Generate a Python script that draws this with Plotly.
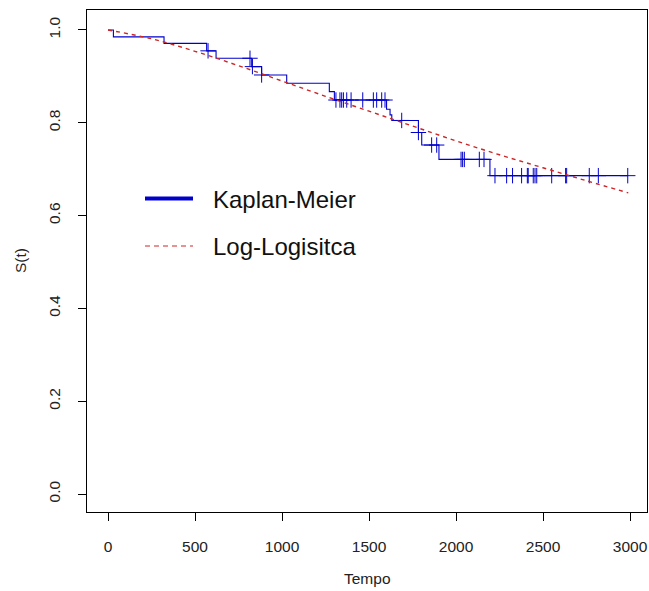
import numpy as np
import plotly.graph_objects as go

# Kaplan-Meier estimate (event times and survival after each step)
km_times = [0, 31, 322, 567, 621, 826, 883, 1027, 1272, 1301, 1601, 1621, 1631, 1784, 1803, 1902, 2195]
km_surv = [1.0, 0.985, 0.971, 0.955, 0.939, 0.921, 0.903, 0.885, 0.867, 0.849, 0.829, 0.817, 0.805, 0.779, 0.752, 0.721, 0.686]
km_end = 2987

# censored times
censor_times = [575, 816, 830, 883, 1310, 1333, 1343, 1353, 1372, 1397, 1464, 1525, 1544, 1573, 1592,
                1688, 1784, 1860, 1889, 2029, 2038, 2048, 2134, 2161, 2224, 2291, 2325, 2377, 2410,
                2415, 2444, 2454, 2464, 2550, 2630, 2636, 2766, 2818, 2987]

# fitted log-logistic survival
ll_times = [0, 250, 500, 750, 1000, 1250, 1500, 1750, 2000, 2250, 2500, 2750, 2990]
ll_surv = [1.0, 0.981, 0.954, 0.923, 0.890, 0.857, 0.825, 0.793, 0.761, 0.731, 0.703, 0.675, 0.649]

x_ticks = [0, 500, 1000, 1500, 2000, 2500, 3000]
y_ticks = [0.0, 0.2, 0.4, 0.6, 0.8, 1.0]
y_ticklabels = ["0.0", "0.2", "0.4", "0.6", "0.8", "1.0"]

legend_labels = ["Kaplan-Meier", "Log-Logisitca"]

BLUE = "#0000CD"
RED = "#CD2626"
FONT = "Liberation Sans"

W, H = 649, 591
ML, MR, MT, MB = 87, 2, 10, 79
PW = W - ML - MR
PH = H - MT - MB

def px(x):
    return (x - ML) / PW

def py(y):
    return (H - MB - y) / PH

fig = go.Figure()

step_x = list(km_times) + [km_end]
step_y = list(km_surv) + [km_surv[-1]]
fig.add_trace(go.Scatter(x=step_x, y=step_y, mode="lines", line=dict(color=BLUE, width=1.1, shape="hv"),
                         showlegend=False, hoverinfo="skip"))

idx = np.searchsorted(np.array(km_times), np.array(censor_times), side="right") - 1
cens_y = [km_surv[i] for i in idx]
fig.add_trace(go.Scatter(x=censor_times, y=cens_y, mode="markers",
                         marker=dict(symbol="cross-thin", size=11, line=dict(color=BLUE, width=1)),
                         showlegend=False, hoverinfo="skip"))

fig.add_trace(go.Scatter(x=ll_times, y=ll_surv, mode="lines",
                         line=dict(color=RED, width=1.4, dash="4px,4px", shape="spline"),
                         showlegend=False, hoverinfo="skip"))

axis_common = dict(showline=True, mirror=True, linecolor="black", linewidth=1,
                   ticks="outside", ticklen=8, tickcolor="black", tickwidth=1,
                   showgrid=False, zeroline=False,
                   tickfont=dict(family=FONT, size=15.5, color="#222222"))

fig.update_xaxes(range=[-120.7, 3097.7], tickvals=x_ticks, ticktext=[str(v) for v in x_ticks],
                 ticklabelstandoff=12, **axis_common)
fig.update_yaxes(range=[-0.0388, 1.043], tickvals=y_ticks, ticktext=y_ticklabels,
                 tickangle=-90, ticklabelstandoff=12, **axis_common)

annotations = [
    dict(text="Tempo", x=px(367.5), y=py(579), xref="paper", yref="paper", showarrow=False,
         font=dict(family=FONT, size=15.5, color="#222222"), xanchor="center", yanchor="middle"),
    dict(text="S(t)", x=px(20), y=py(261), xref="paper", yref="paper", showarrow=False, textangle=-90,
         font=dict(family=FONT, size=15.5, color="#222222"), xanchor="center", yanchor="middle"),
    dict(text=legend_labels[0], x=px(211), y=py(199), xref="paper", yref="paper", showarrow=False,
         font=dict(family=FONT, size=24, color="#111111"), xanchor="left", yanchor="middle"),
    dict(text=legend_labels[1], x=px(211), y=py(246), xref="paper", yref="paper", showarrow=False,
         font=dict(family=FONT, size=24, color="#111111"), xanchor="left", yanchor="middle"),
]

shapes = [
    dict(type="line", xref="paper", yref="paper", x0=px(145), x1=px(193), y0=py(198.5), y1=py(198.5),
         line=dict(color=BLUE, width=4)),
    dict(type="line", xref="paper", yref="paper", x0=px(145), x1=px(193), y0=py(246), y1=py(246),
         line=dict(color=RED, width=1, dash="5px,4px")),
]

fig.update_layout(width=W, height=H, margin=dict(l=ML, r=MR, t=MT, b=MB),
                  paper_bgcolor="white", plot_bgcolor="white",
                  annotations=annotations, shapes=shapes, showlegend=False)

fig.write_html("out.html")
